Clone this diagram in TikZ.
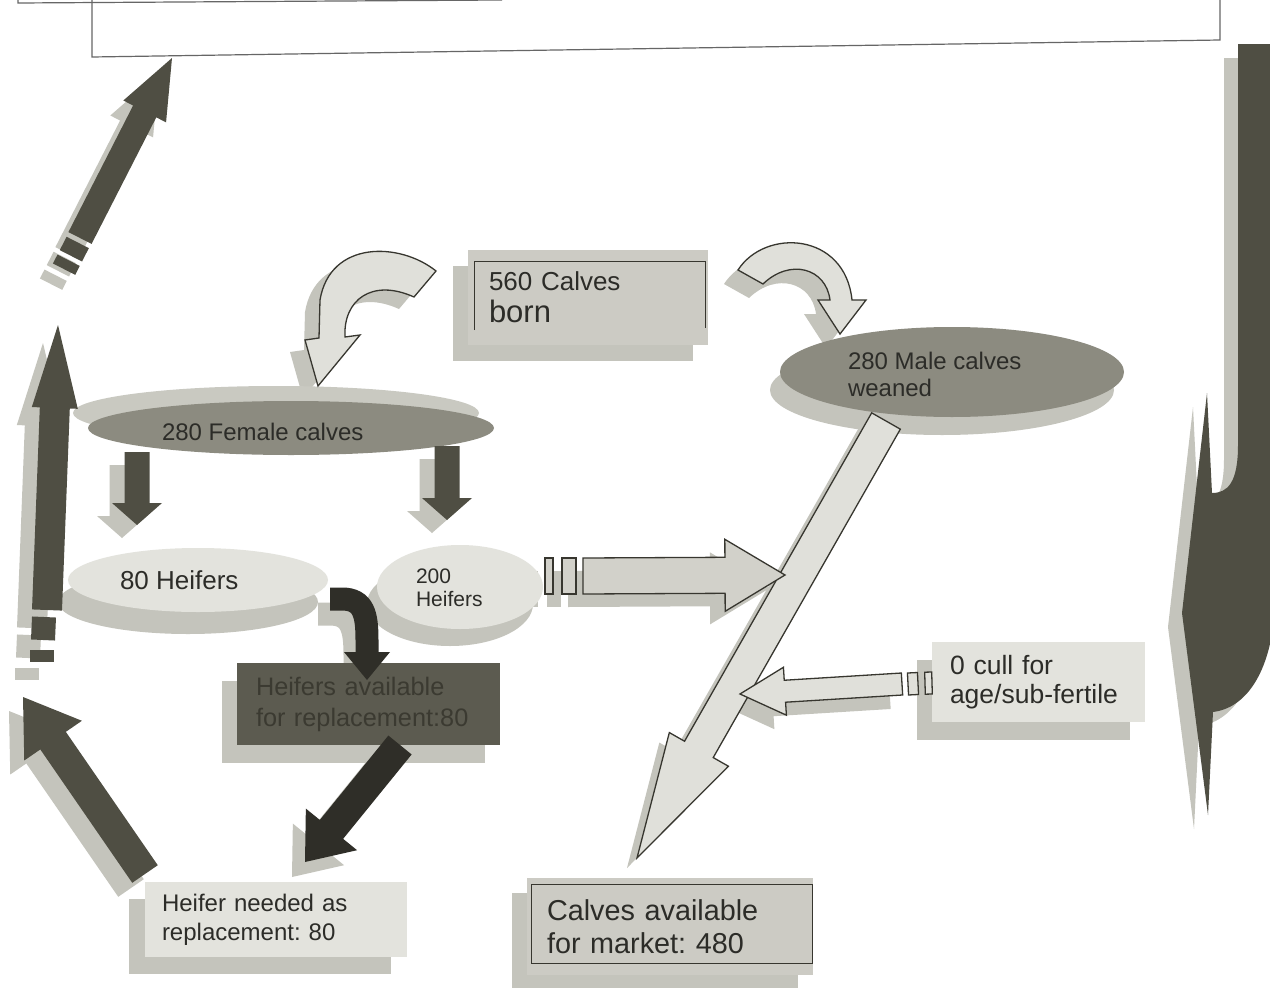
\documentclass[tikz,border=0pt]{standalone}
\usepackage{fontspec}
\setmainfont{Liberation Sans}
\usetikzlibrary{calc, shapes.geometric, shadows}
\frenchspacing

\definecolor{cowdark}{HTML}{4F4E43}
\definecolor{cowdeep}{HTML}{2F2E28}
\definecolor{cowghost}{HTML}{C4C4BC}
\definecolor{cowmid}{HTML}{8C8B80}
\definecolor{cowback}{HTML}{C9C9C1}
\definecolor{cowpale}{HTML}{E3E3DD}
\definecolor{boxgray}{HTML}{CCCBC4}
\definecolor{boxdark}{HTML}{5C5B50}
\definecolor{boxink}{HTML}{3B3A31}
\definecolor{hollowfill}{HTML}{E0E0DA}
\definecolor{feedfill}{HTML}{D2D1CA}
\definecolor{ink}{HTML}{2C2C28}
\definecolor{rimline}{HTML}{37362F}

% block arrow: tail, tip, shaft half width, head half width, head length
\newcommand{\blockarrow}[6][]{%
  \coordinate (hb) at ($(#3)!#6pt!(#2)$);
  \path[#1] ($(#2)!#4pt!90:(#3)$) -- ($(hb)!#4pt!90:(#3)$) -- ($(hb)!#5pt!90:(#3)$)
    -- (#3) -- ($(hb)!#5pt!-90:(#3)$) -- ($(hb)!#4pt!-90:(#3)$)
    -- ($(#2)!#4pt!-90:(#3)$) -- cycle;}
% one piece of a broken tail
\newcommand{\blockseg}[4][]{%
  \path[#1] ($(#2)!#4pt!90:(#3)$) -- ($(#3)!#4pt!-90:(#2)$)
    -- ($(#3)!#4pt!90:(#2)$) -- ($(#2)!#4pt!-90:(#3)$) -- cycle;}

\begin{document}
\begin{tikzpicture}[x=1pt, y=-1pt,
    ghostat/.style={fill=cowghost, draw=none, transform canvas={shift={#1}}},
    darkfill/.style={fill=cowdark},
    deepfill/.style={fill=cowdeep},
    hollow/.style={fill=hollowfill, draw=rimline, line width=1.3pt, line join=miter},
    rim/.style={draw=rimline, line width=1.2pt},
    lbl/.style={text=ink, inner sep=0pt, align=left, anchor=west},
    oval/.style={ellipse, inner sep=0pt},
    card/.style={rectangle, inner ysep=0pt, align=left, text=ink},
    lift/.style 2 args={drop shadow={shadow xshift=#1pt, shadow yshift=#2pt, fill=cowghost, opacity=1}}
  ]

  \useasboundingbox[fill=white] (0,0) rectangle (1270,988);

  % frame at the top
  \draw[draw=black!60, line width=1.2pt, fill=white] (92,-6) -- (92,57) -- (1220,40) -- (1220,-6);
  \draw[black!60, line width=1.2pt] (18,-6) -- (18,3) -- (502,0);

  % big hook on the right
  \path[ghostat={(-14,14)}] (1238,44) -- (1238,445) .. controls (1238,482) and (1228,493) .. (1212,493)
    -- (1207,393) -- (1182,613) -- (1208,815) -- (1213,712)
    .. controls (1245,708) and (1270,675) .. (1275,610) -- (1275,44) -- cycle;
  \path[darkfill] (1238,44) -- (1238,445) .. controls (1238,482) and (1228,493) .. (1212,493)
    -- (1207,393) -- (1182,613) -- (1208,815) -- (1213,712)
    .. controls (1245,708) and (1270,675) .. (1275,610) -- (1275,44) -- cycle;

  % arrow ends
  \coordinate (upT) at (47,610);
  \coordinate (upH) at (58,325);
  \coordinate (upS1) at (44,617);
  \coordinate (upS2) at (43,640);
  \coordinate (upS3) at (42,650);
  \coordinate (upS4) at (42,662);
  \coordinate (rtT) at (80,238);
  \coordinate (rtH) at (172,58);
  \coordinate (rtS1) at ($(rtT)!-5pt!(rtH)$);
  \coordinate (rtS2) at ($(rtT)!-20pt!(rtH)$);
  \coordinate (rtS3) at ($(rtT)!-25pt!(rtH)$);
  \coordinate (rtS4) at ($(rtT)!-35pt!(rtH)$);
  \coordinate (backT) at (145,874);
  \coordinate (backH) at (23,697);
  \coordinate (giveT) at (400,745);
  \coordinate (giveH) at (305,862);
  \coordinate (dlT) at (137,452);
  \coordinate (dlH) at (137,525);
  \coordinate (drT) at (447,446);
  \coordinate (drH) at (447,520);
  \coordinate (turnT) at (330,599);
  \coordinate (turnM) at (367,640);
  \coordinate (turnH) at (367,680);
  \coordinate (sellT) at (886,421);
  \coordinate (sellH) at (637,858);
  \coordinate (feedT) at (583,576);
  \coordinate (feedH) at (785,575);
  \coordinate (feedS1) at (562,576);
  \coordinate (feedS2) at (576,576);
  \coordinate (feedS3) at (545,576);
  \coordinate (feedS4) at (553,576);
  \coordinate (cullT) at (902,684);
  \coordinate (cullH) at (740,694);
  \coordinate (cullS1) at (908,684);
  \coordinate (cullS2) at (918,683.5);
  \coordinate (cullS3) at (925,683.2);
  \coordinate (cullS4) at (932,683);

  % shadows of the arrows
  \blockarrow[ghostat={(-15,18)}]{upT}{upH}{15}{23}{83}
  \blockseg[ghostat={(-15,18)}]{upS1}{upS2}{12}
  \blockseg[ghostat={(-15,18)}]{upS3}{upS4}{12}
  \blockarrow[ghostat={(-13,15)}]{rtT}{rtH}{13}{24}{60}
  \blockseg[ghostat={(-13,15)}]{rtS1}{rtS2}{12.5}
  \blockseg[ghostat={(-13,15)}]{rtS3}{rtS4}{12.5}
  \blockarrow[ghostat={(-14,14)}]{backT}{backH}{15.5}{35}{53}
  \blockarrow[ghostat={(-13,15)}]{giveT}{giveH}{15}{33}{42}
  \blockarrow[ghostat={(-15,13)}]{dlT}{dlH}{12.5}{25}{22}
  \blockarrow[ghostat={(-15,13)}]{drT}{drH}{12.5}{25}{22}
  \draw[cowghost, line width=23pt, transform canvas={shift={(-12,15)}}]
    (turnT) -- ++(12,0) .. controls +(22,0) and +(0,-25) .. (turnM);
  \blockarrow[ghostat={(-12,15)}]{turnM}{turnH}{11.5}{23}{28}
  \blockarrow[ghostat={(-10,10)}]{sellT}{sellH}{16.5}{34}{125}
  \blockarrow[ghostat={(-15,13)}]{feedT}{feedH}{18}{36}{60}
  \blockseg[ghostat={(-15,13)}]{feedS1}{feedS2}{18}
  \blockseg[ghostat={(-15,13)}]{feedS3}{feedS4}{18}
  \blockarrow[ghostat={(-12,14)}]{cullT}{cullH}{11}{24}{45}
  \path[ghostat={(-15,12)}] (436,271) .. controls (400,242) and (330,240) .. (320,300)
    -- (319,338) -- (305,340) -- (318,386) -- (360,335) -- (345,337)
    .. controls (343,300) and (372,278) .. (414,297) -- cycle;
  \path[ghostat={(-14,14)}] (738,270) .. controls (765,228) and (845,232) .. (852,300)
    -- (866,300) -- (840,334) -- (818,300) -- (830,300)
    .. controls (826,268) and (790,258) .. (763,284) -- cycle;

  % ovals
  \node[oval, fill=cowmid, minimum width=406, minimum height=54,
    drop shadow={shadow xshift=-15pt, shadow yshift=15pt, fill=cowback, opacity=1}] (female) at (291,428) {};
  \node[oval, fill=cowmid, minimum width=344, minimum height=90, lift={-10}{-18}] (male) at (952,372) {};
  \node[oval, fill=cowpale, minimum width=260, minimum height=64, lift={-10}{-22}] (heif80) at (198,580) {};
  \node[oval, fill=cowpale, minimum width=166, minimum height=84, lift={-10}{-17}] (heif200) at (460,587) {};

  \node[lbl, font=\fontsize{24}{28}\selectfont] (femaletxt) at ([shift={(74,4)}]female.west) {280 Female calves};
  \node[lbl, font=\fontsize{24}{27}\selectfont] (maletxt) at ([shift={(68,2)}]male.west) {280 Male calves\\weaned};
  \node[lbl, font=\fontsize{26}{30}\selectfont] (heif80txt) at ([shift={(52,0)}]heif80.west) {80 Heifers};
  \node[lbl, font=\fontsize{21}{23}\selectfont] (heif200txt) at ([shift={(39,1)}]heif200.west) {200\\Heifers};

  % boxes
  \node[card, fill=boxgray, minimum width=240, minimum height=95, text width=198, inner xsep=21,
    font=\fontsize{26}{32}\selectfont, lift={-15}{-16}] (born) at (588,297.5)
    {560 Calves\\{\fontsize{31}{32}\selectfont born}};
  \draw[rim] ([shift={(7,-15)}]born.south west) |- ([shift={(-3,12)}]born.north east)
    -- ([shift={(-3,-17)}]born.south east);
  \node[card, fill=boxdark, text=boxink, minimum width=263, minimum height=82, text width=225, inner xsep=19,
    font=\fontsize{25.3}{31}\selectfont, lift={-15}{-18}] (avail) at (368.5,704)
    {Heifers available\\for replacement:80};
  \node[card, fill=cowpale, minimum width=262, minimum height=75, text width=228, inner xsep=17,
    font=\fontsize{24}{29}\selectfont, lift={-16}{-17}] (needed) at (276,919.5)
    {Heifer needed as\\replacement: 80};
  \node[card, fill=boxgray, minimum width=286, minimum height=97, text width=246, inner xsep=20,
    font=\fontsize{28.8}{33}\selectfont, lift={-15}{-15}] (market) at (670,926.5)
    {Calves available\\for market: 480};
  \draw[rim] ([shift={(5,7)}]market.north west) rectangle ([shift={(-1,-12)}]market.south east);
  \node[card, fill=cowpale, minimum width=213, minimum height=80, text width=177, inner xsep=18,
    font=\fontsize{26.5}{29}\selectfont, lift={-15}{-18}] (cull) at (1038.5,682)
    {0 cull for\\age/sub-fertile};

  % dark arrows
  \blockarrow[darkfill]{upT}{upH}{15}{23}{83}
  \blockseg[darkfill]{upS1}{upS2}{12}
  \blockseg[darkfill]{upS3}{upS4}{12}
  \blockarrow[darkfill]{rtT}{rtH}{13}{24}{60}
  \blockseg[darkfill]{rtS1}{rtS2}{12.5}
  \blockseg[darkfill]{rtS3}{rtS4}{12.5}
  \blockarrow[darkfill]{backT}{backH}{15.5}{35}{53}
  \blockarrow[darkfill]{dlT}{dlH}{12.5}{25}{22}
  \blockarrow[darkfill]{drT}{drH}{12.5}{25}{22}
  \blockarrow[deepfill]{giveT}{giveH}{15}{33}{42}
  \draw[cowdeep, line width=23pt] (turnT) -- ++(12,0) .. controls +(22,0) and +(0,-25) .. (turnM);
  \blockarrow[deepfill]{turnM}{turnH}{11.5}{23}{28}

  % hollow arrows
  \path[hollow] (436,271) .. controls (400,242) and (330,240) .. (320,300)
    -- (319,338) -- (305,340) -- (318,386) -- (360,335) -- (345,337)
    .. controls (343,300) and (372,278) .. (414,297) -- cycle;
  \path[hollow] (738,270) .. controls (765,228) and (845,232) .. (852,300)
    -- (866,300) -- (840,334) -- (818,300) -- (830,300)
    .. controls (826,268) and (790,258) .. (763,284) -- cycle;
  \blockarrow[hollow]{sellT}{sellH}{16.5}{34}{125}
  \blockarrow[hollow, fill=feedfill]{feedT}{feedH}{18}{36}{60}
  \blockseg[hollow, fill=feedfill]{feedS1}{feedS2}{18}
  \blockseg[hollow, fill=feedfill]{feedS3}{feedS4}{18}
  \blockarrow[hollow]{cullT}{cullH}{11}{24}{45}
  \blockseg[hollow]{cullS1}{cullS2}{11}
  \blockseg[hollow]{cullS3}{cullS4}{11}
\end{tikzpicture}
\end{document}
